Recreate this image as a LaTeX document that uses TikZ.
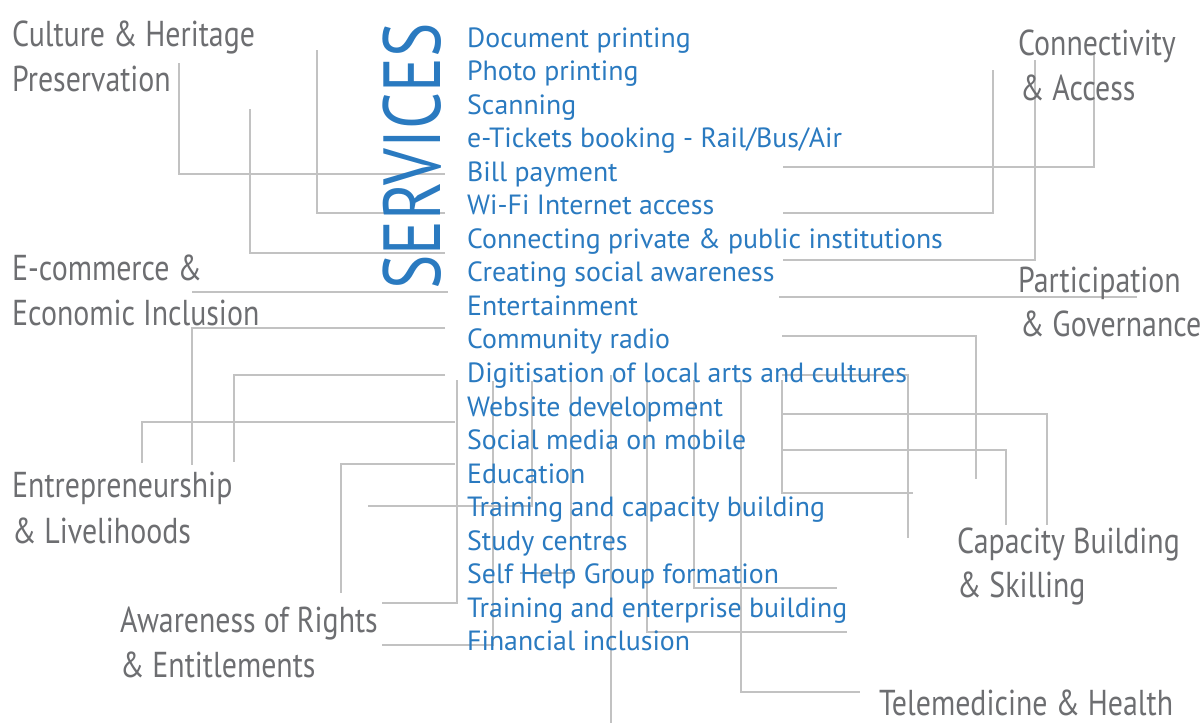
\documentclass[tikz,border=0pt]{standalone}
\usepackage{fontspec}
\setmainfont{PT Sans}
\newfontfamily\narrowfont[FakeStretch=0.83]{PT Sans}
\newfontfamily\titlefont[FakeStretch=0.8]{PT Sans}
\definecolor{svcblue}{HTML}{2A7AC0}
\definecolor{labgray}{HTML}{6D6E71}
\definecolor{linegray}{HTML}{C2C2C2}
\tikzset{
  svc/.style={anchor=base west, inner sep=0pt, text=svcblue, font=\fontsize{27.8}{30}\selectfont},
  cat/.style={anchor=base west, inner sep=0pt, text=labgray, font=\narrowfont\fontsize{36}{45}\selectfont},
  conn/.style={draw=linegray, line width=1.4pt},
}
\begin{document}
\begin{tikzpicture}[x=1pt,y=-1pt]
\useasboundingbox (0,0) rectangle (1202,723);
% connectors
\draw[conn] (179,63) -- (179,174) -- (445,174);
\draw[conn] (317,50) -- (317,213) -- (445,213);
\draw[conn] (250,109) -- (250,253) -- (445,253);
\draw[conn] (192,292) -- (448,292);
\draw[conn] (445,328) -- (192,328) -- (192,465);
\draw[conn] (445,375) -- (234,375) -- (234,462);
\draw[conn] (455,422) -- (142,422) -- (142,463);
\draw[conn] (455,464) -- (341,464) -- (341,593);
\draw[conn] (368,506) -- (532,506) -- (532,381);
\draw[conn] (382,603) -- (457,603) -- (457,380);
\draw[conn] (382,645) -- (493,645) -- (493,381);
\draw[conn] (520,573) -- (571,573) -- (571,380);
\draw[conn] (611,375) -- (611,723);
\draw[conn] (741,381) -- (741,692) -- (860,692);
\draw[conn] (647,380) -- (647,632) -- (847,632);
\draw[conn] (694,380) -- (694,588) -- (837,588);
\draw[conn] (782,414) -- (1047,414) -- (1047,525);
\draw[conn] (782,380) -- (782,493) -- (913,493);
\draw[conn] (782,450) -- (1006,450) -- (1006,525);
\draw[conn] (782,375) -- (908,375) -- (908,538);
\draw[conn] (782,336) -- (976,336) -- (976,479);
\draw[conn] (779,297) -- (1137,297);
\draw[conn] (783,167) -- (1094,167) -- (1094,53);
\draw[conn] (783,213) -- (993,213) -- (993,70);
\draw[conn] (783,260) -- (1035,260) -- (1035,60);
% title
\node[anchor=base west, inner sep=0pt, rotate=90, text=svcblue, font=\titlefont\fontsize{81}{90}\selectfont] (title) at (440,290) {SERVICES};
% services
\foreach \t [count=\i from 0] in {Document printing, Photo printing, Scanning, e-Tickets booking - Rail/Bus/Air, Bill payment, Wi-Fi Internet access, Connecting private \& public institutions, Creating social awareness, Entertainment, Community radio, Digitisation of local arts and cultures, Website development, Social media on mobile, Education, Training and capacity building, Study centres, Self Help Group formation, Training and enterprise building, Financial inclusion}
  \node[svc] (s\i) at (467, 47+33.55*\i) {\t};
% categories
\node[cat] (cul1) at (12,46) {Culture \& Heritage};
\node[cat] (cul2) at (12,91) {Preservation};
\node[cat] (con1) at (1018,55) {Connectivity};
\node[cat] (con2) at (1020,100) {\& Access};
\node[cat] (eco1) at (12,280) {E-commerce \&};
\node[cat] (eco2) at (12,325) {Economic Inclusion};
\node[cat] (par1) at (1018,292) {Participation};
\node[cat] (par2) at (1020,336) {\& Governance};
\node[cat] (ent1) at (12,497) {Entrepreneurship};
\node[cat] (ent2) at (12,543) {\& Livelihoods};
\node[cat] (cap1) at (957,553) {Capacity Building};
\node[cat] (cap2) at (957,597) {\& Skilling};
\node[cat] (awa1) at (120,632) {Awareness of Rights};
\node[cat] (awa2) at (120,677) {\& Entitlements};
\node[cat] (tel) at (879,715) {Telemedicine \& Health};
\end{tikzpicture}
\end{document}
